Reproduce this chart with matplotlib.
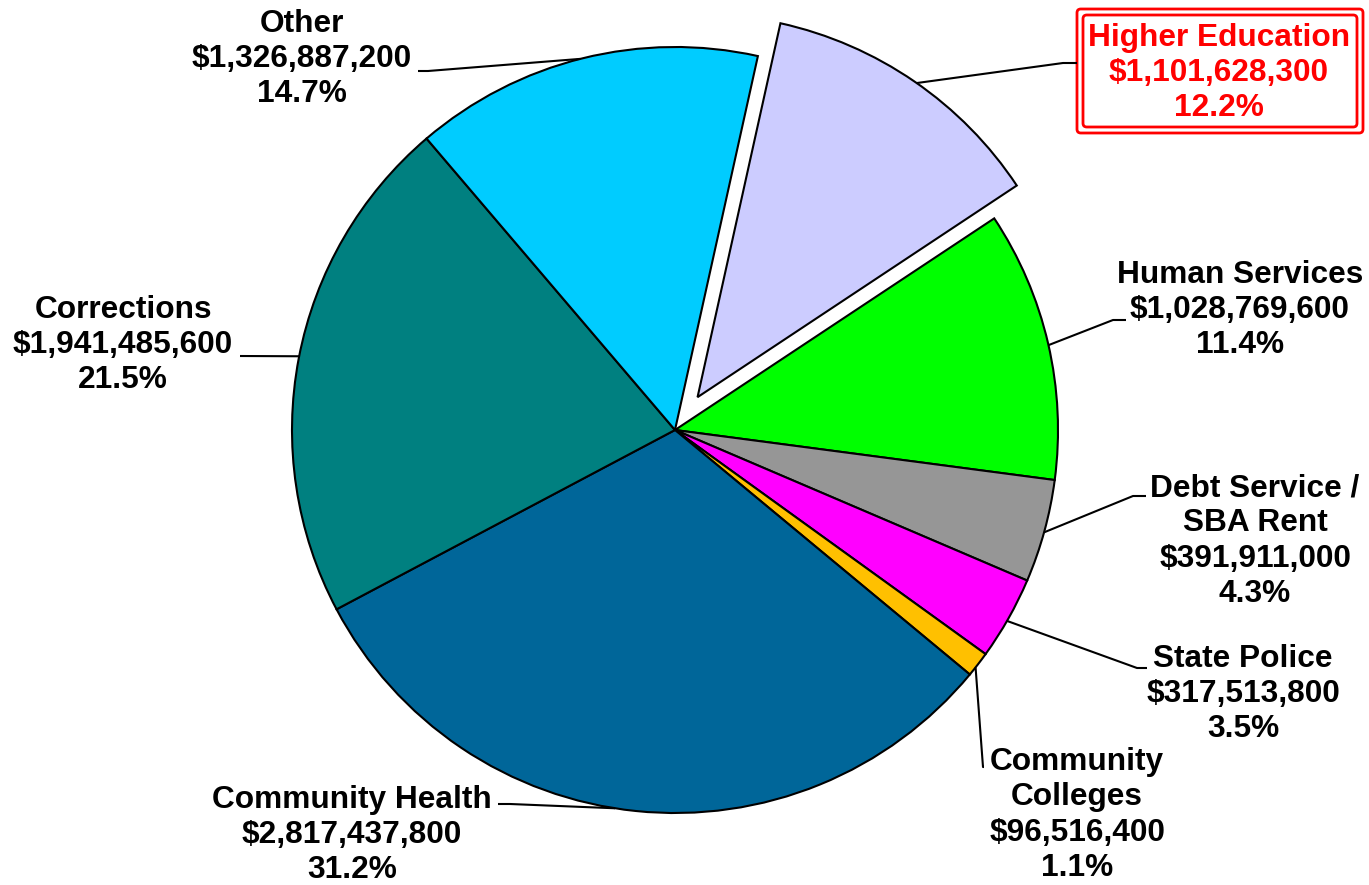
import matplotlib.pyplot as plt
import matplotlib
from matplotlib.patches import FancyBboxPatch
import numpy as np

matplotlib.rcParams['font.family'] = ['Liberation Sans', 'DejaVu Sans']
matplotlib.rcParams['font.weight'] = 'bold'

# data
categories = ['Higher Education', 'Human Services', 'Debt Service /\nSBA Rent', 'State Police',
              'Community\nColleges', 'Community Health', 'Corrections', 'Other']
amounts = [1101628300, 1028769600, 391911000, 317513800, 96516400, 2817437800, 1941485600, 1326887200]
percents = ['12.2%', '11.4%', '4.3%', '3.5%', '1.1%', '31.2%', '21.5%', '14.7%']
colors = ['#CCCCFF', '#00FF00', '#969696', '#FF00FF', '#FFC000', '#006699', '#008080', '#00CCFF']

# layout (pixels of the 1369x885 figure)
W, H = 1369, 885
CX, CY, R = 675, 430, 383
label_xy = [(1219, 73), (1240, 310), (1255, 541), (1243, 694), (1077, 815), (352, 835), (123, 345), (302, 59)]
line_angle = [55.1, 12.8, -15.5, -29.9, -38.3, -99, 168.9, 104.3]
line_elbow = [(1063, 63), (1113, 320), (1133, 496), (1137, 668), (983, 767), (510, 804), (240, 356), (428, 71)]
line_end = [(1077, 63), (1126, 320), (1146, 496), (1147, 668), (984, 767), (498, 804), (240, 356), (418, 71)]
explode = [0.104, 0, 0, 0, 0, 0, 0, 0]
START = 77.5


def px(x, y):
    return (x - CX) / R, (CY - y) / R


fig = plt.figure(figsize=(W / 100, H / 100), dpi=100)
ax = fig.add_axes([0, 0, 1, 1])

wedges, _ = ax.pie(amounts, colors=colors, startangle=START, counterclock=False,
                   explode=explode, wedgeprops=dict(edgecolor='black', linewidth=1.5))
ax.set_xlim(-CX / R, (W - CX) / R)
ax.set_ylim((CY - H) / R, CY / R)
ax.set_aspect('auto')
ax.axis('off')

for i, name in enumerate(categories):
    w = wedges[i]
    cx, cy = w.center
    a = np.deg2rad(line_angle[i])
    x0, y0 = cx + np.cos(a), cy + np.sin(a)
    ex, ey = px(*line_elbow[i])
    tx, ty = px(*line_end[i])
    ax.plot([x0, ex, tx], [y0, ey, ty], color='black', lw=1.5, solid_capstyle='butt')

    txt = f"{name}\n${amounts[i]:,}\n{percents[i]}"
    col = 'red' if i == 0 else 'black'
    lx, ly = px(*label_xy[i])
    ax.text(lx, ly, txt, ha='center', va='center', multialignment='center',
            fontsize=22.8, fontweight='bold', color=col, linespacing=1.22)

# double red frame round the highlighted label
for (x1, y1, x2, y2) in [(1077, 9, 1363, 133), (1083, 15, 1357, 127)]:
    a0 = px(x1, y2)
    a1 = px(x2, y1)
    ax.add_patch(FancyBboxPatch(a0, a1[0] - a0[0], a1[1] - a0[1],
                                boxstyle='round,pad=0,rounding_size=0.01',
                                fill=False, edgecolor='red', lw=2))

fig.savefig('out.png', dpi=100)
